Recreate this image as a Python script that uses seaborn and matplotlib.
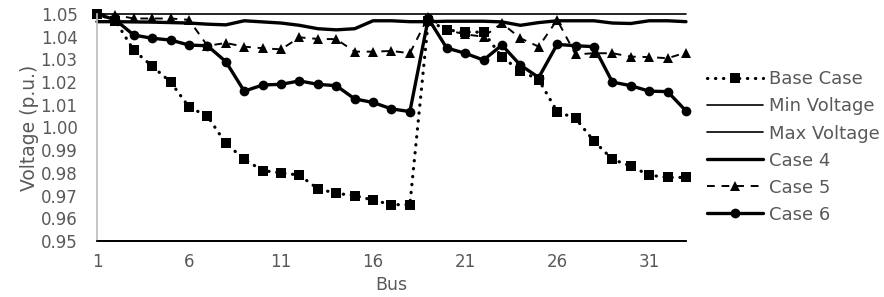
import numpy as np
import pandas as pd
import seaborn as sns
import matplotlib.pyplot as plt

# bus numbers 1..33
BUSES = list(range(1, 34))

# voltage profiles (p.u.)
BASE_CASE = [1.050, 1.047, 1.034, 1.027, 1.020, 1.009, 1.005, 0.993, 0.986,
             0.981, 0.980, 0.979, 0.973, 0.971, 0.970, 0.968, 0.966, 0.966,
             1.047, 1.043, 1.042, 1.042, 1.031, 1.025, 1.021, 1.007, 1.004,
             0.994, 0.986, 0.983, 0.979, 0.978, 0.978]
MIN_VOLTAGE = [0.95] * 33
MAX_VOLTAGE = [1.05] * 33
CASE_4 = [1.0466, 1.0466, 1.0465, 1.0464, 1.0462, 1.0460, 1.0455, 1.0452,
          1.0470, 1.0465, 1.0460, 1.0450, 1.0435, 1.0430, 1.0435, 1.0470,
          1.0470, 1.0466, 1.0466, 1.0468, 1.0468, 1.0468, 1.0465, 1.0450,
          1.0462, 1.0470, 1.0470, 1.0470, 1.0460, 1.0458, 1.0470, 1.0470,
          1.0466]
CASE_5 = [1.050, 1.0495, 1.048, 1.048, 1.048, 1.0474, 1.036, 1.0372, 1.0356,
          1.0349, 1.0344, 1.0397, 1.039, 1.0389, 1.0334, 1.0334, 1.0337,
          1.0327, 1.0488, 1.043, 1.041, 1.040, 1.0459, 1.0393, 1.0356,
          1.0474, 1.0322, 1.0327, 1.0327, 1.0312, 1.031, 1.0305, 1.033]
CASE_6 = [1.050, 1.0474, 1.0407, 1.0393, 1.0385, 1.0363, 1.036, 1.029, 1.016,
          1.0187, 1.019, 1.0205, 1.019, 1.0184, 1.0126, 1.011, 1.0082, 1.007,
          1.048, 1.035, 1.0327, 1.0297, 1.0363, 1.0275, 1.022, 1.0366, 1.036,
          1.0356, 1.020, 1.0184, 1.016, 1.0158, 1.0073]

X_TICKS = [1, 6, 11, 16, 21, 26, 31]
Y_TICKS = [0.95, 0.96, 0.97, 0.98, 0.99, 1.00, 1.01, 1.02, 1.03, 1.04, 1.05]

GRAY = "#595959"

sns.set_theme(style="white")
plt.rcParams["font.family"] = ["DejaVu Sans"]

df = pd.DataFrame({
    "Bus": BUSES,
    "Base Case": BASE_CASE,
    "Min Voltage": MIN_VOLTAGE,
    "Max Voltage": MAX_VOLTAGE,
    "Case 4": CASE_4,
    "Case 5": CASE_5,
    "Case 6": CASE_6,
})

fig, ax = plt.subplots(figsize=(8.84, 2.97), dpi=100)
fig.subplots_adjust(left=0.1097, right=0.776, top=0.953, bottom=0.1886)

styles = {
    "Base Case": dict(linestyle=(0, (0.1, 2.4)), linewidth=2.3,
                      dash_capstyle="round", marker="s", markersize=7.5),
    "Min Voltage": dict(linestyle="-", linewidth=1.2),
    "Max Voltage": dict(linestyle="-", linewidth=1.2),
    "Case 4": dict(linestyle="-", linewidth=2.4),
    "Case 5": dict(linestyle=(0, (4, 3.5)), linewidth=1.4, marker="^",
                   markersize=7),
    "Case 6": dict(linestyle="-", linewidth=2.4, marker="o", markersize=7),
}

for name, kw in styles.items():
    sns.lineplot(data=df, x="Bus", y=name, ax=ax, color="black", label=name,
                 clip_on=False, markeredgewidth=0, legend=False, **kw)

ax.set_xlim(1, 33)
ax.set_ylim(0.95, 1.05)
ax.set_xticks(X_TICKS)
ax.set_yticks(Y_TICKS)
ax.set_yticklabels([f"{v:.2f}" for v in Y_TICKS])
ax.tick_params(axis="both", colors=GRAY, labelsize=12, length=0)
ax.tick_params(axis="y", pad=14)
ax.tick_params(axis="x", pad=9)
ax.set_xlabel("Bus", color=GRAY, fontsize=12.5, labelpad=3)
ax.set_ylabel("Voltage (p.u.)", color=GRAY, fontsize=13.5, labelpad=1)

for side in ["top", "right"]:
    ax.spines[side].set_visible(False)
ax.spines["left"].set_color("#BFBFBF")
ax.spines["bottom"].set_color("black")

handles, labels = ax.get_legend_handles_labels()
fig.legend(handles, labels, loc="center left", bbox_to_anchor=(0.79, 0.505),
           frameon=False, fontsize=13, handlelength=3.1, handletextpad=0.3,
           labelspacing=0.5, borderpad=0, labelcolor=GRAY)

fig.savefig("out.png", dpi=100)
